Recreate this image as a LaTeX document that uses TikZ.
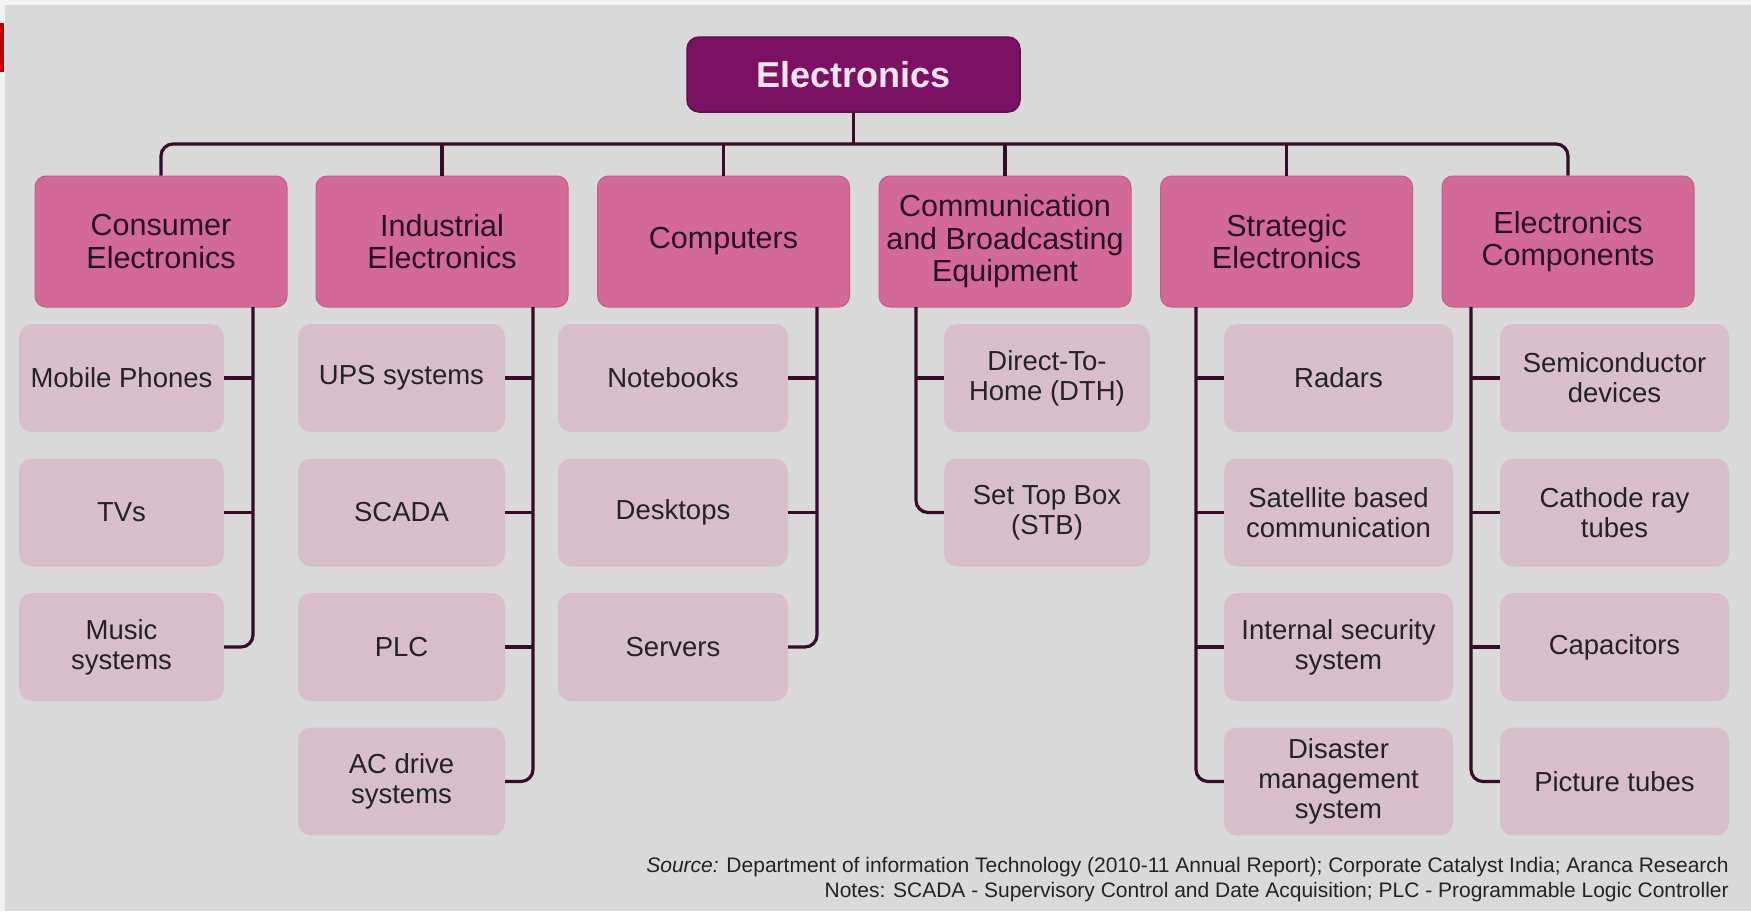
\documentclass[tikz,border=0pt]{standalone}
\usepackage{fontspec}
\setmainfont{Liberation Sans}

\definecolor{bggray}{RGB}{217,217,217}
\definecolor{edgegray}{RGB}{242,242,242}
\definecolor{slidered}{RGB}{192,0,0}
\definecolor{rootpurple}{RGB}{123,17,98}
\definecolor{sectorpink}{RGB}{211,105,152}
\definecolor{itempink}{RGB}{216,190,203}
\definecolor{wirecol}{RGB}{55,12,42}
\definecolor{sectortext}{RGB}{40,15,30}
\definecolor{itemtext}{RGB}{35,35,35}
\definecolor{roottext}{RGB}{245,228,240}

\begin{document}
\begin{tikzpicture}[x=1pt,y=-1pt]
    \tikzstyle{rootbox}=[rectangle,rounded corners=12pt,fill=rootpurple,draw=rootpurple!80!black,line width=1.5pt,minimum width=333pt,minimum height=75pt,text=roottext,font=\fontsize{36}{40}\selectfont\bfseries]
    \tikzstyle{sectorbox}=[rectangle,rounded corners=11pt,fill=sectorpink,draw=sectorpink!90!black,line width=1pt,minimum width=252pt,minimum height=131pt,align=center,text=sectortext,font=\fontsize{30.5}{32.5}\selectfont]
    \tikzstyle{itembox}=[rectangle,rounded corners=13pt,fill=itempink,minimum height=108pt,align=center,text=itemtext,font=\fontsize{27.5}{30}\selectfont]
    \tikzstyle{wire}=[draw=wirecol,line width=3.2pt]

    % page
    \fill[edgegray] (0,0) rectangle (1751,911);
    \fill[bggray] (5,5) rectangle (1751,911);
    \fill[slidered] (0,23) rectangle (4,72);
    \useasboundingbox (0,0) rectangle (1751,911);

    \node[rootbox] (E) at (853.5,74.5) {Electronics};

    \foreach \num/\x/\txt in {1/161/{Consumer\\Electronics}, 2/442/{Industrial\\Electronics}, 3/723.5/Computers,
            4/1005/{Communication\\and Broadcasting\\Equipment}, 5/1286.5/{Strategic\\Electronics}, 6/1568/{Electronics\\Components}}
        \node[sectorbox] (S-\num) at (\x,241.5) {\txt};

    % items, one column per sector
    \foreach \num/\txt in {1/Mobile Phones, 2/TVs, 3/{Music\\systems}}
        \node[itembox,minimum width=205pt] (S1-\num) at (121.5,{243.5+134.5*\num}) {\txt};
    \foreach \num/\txt in {1/UPS systems, 2/SCADA, 3/PLC, 4/{AC drive\\systems}}
        \node[itembox,minimum width=207pt] (S2-\num) at (401.5,{243.5+134.5*\num}) {\txt};
    \foreach \num/\txt in {1/Notebooks, 2/Desktops, 3/Servers}
        \node[itembox,minimum width=230pt] (S3-\num) at (673,{243.5+134.5*\num}) {\txt};
    \foreach \num/\txt in {1/{Direct-To-\\Home (DTH)}, 2/{Set Top Box\\(STB)}}
        \node[itembox,minimum width=206pt] (S4-\num) at (1047,{243.5+134.5*\num}) {\txt};
    \foreach \num/\txt in {1/Radars, 2/{Satellite based\\communication}, 3/{Internal security\\system}, 4/{Disaster\\management\\system}}
        \node[itembox,minimum width=229pt] (S5-\num) at (1338.5,{243.5+134.5*\num}) {\txt};
    \foreach \num/\txt in {1/{Semiconductor\\devices}, 2/{Cathode ray\\tubes}, 3/Capacitors, 4/Picture tubes}
        \node[itembox,minimum width=229pt] (S6-\num) at (1614.5,{243.5+134.5*\num}) {\txt};

    % bus from the root
    \coordinate (bus) at (853.5,144);
    \draw[wire] (E.south) -- (bus);
    \draw[wire,rounded corners=12pt] (S-1.north) |- (bus) -| (S-6.north);
    \foreach \num in {2,...,5}
        \draw[wire] (S-\num.north) -- (S-\num.north |- bus);

    % column wires
    \foreach \num/\x in {1/253, 2/533, 3/817, 4/916, 5/1196, 6/1471}
        \coordinate (T-\num) at (\x,307);
    \draw[wire,rounded corners=12pt] (T-1) |- (S1-3.east);
    \draw[wire,rounded corners=12pt] (T-2) |- (S2-4.east);
    \draw[wire,rounded corners=12pt] (T-3) |- (S3-3.east);
    \draw[wire,rounded corners=12pt] (T-4) |- (S4-2.west);
    \draw[wire,rounded corners=12pt] (T-5) |- (S5-4.west);
    \draw[wire,rounded corners=12pt] (T-6) |- (S6-4.west);
    \foreach \num in {1,2}
        \draw[wire] (S1-\num.east) -- (S1-\num.east -| T-1);
    \foreach \num in {1,2,3}
        \draw[wire] (S2-\num.east) -- (S2-\num.east -| T-2);
    \foreach \num in {1,2}
        \draw[wire] (S3-\num.east) -- (S3-\num.east -| T-3);
    \draw[wire] (S4-1.west) -- (S4-1.west -| T-4);
    \foreach \num in {1,2,3}
        \draw[wire] (S5-\num.west) -- (S5-\num.west -| T-5);
    \foreach \num in {1,2,3}
        \draw[wire] (S6-\num.west) -- (S6-\num.west -| T-6);

    \node[anchor=east,align=right,inner sep=0pt,text=itemtext,font=\fontsize{21}{25}\selectfont] (note) at (1729,880)
        {\textit{Source:} Department of information Technology (2010-11 Annual Report); Corporate Catalyst India; Aranca Research\\
         Notes: SCADA - Supervisory Control and Date Acquisition; PLC - Programmable Logic Controller};
\end{tikzpicture}
\end{document}
